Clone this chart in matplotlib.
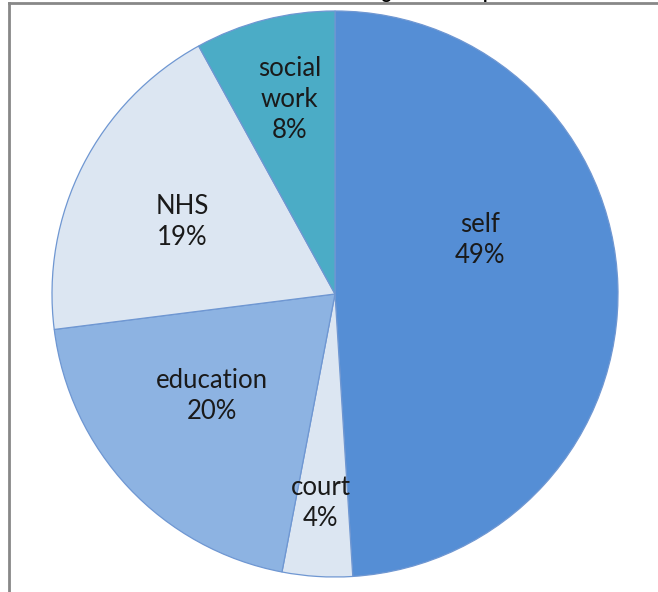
import matplotlib
matplotlib.use("Agg")
import matplotlib.pyplot as plt
from matplotlib.lines import Line2D

# Referral sources (percent of all referrals)
sources = ["self", "court", "education", "NHS", "social\nwork"]
shares = [49, 4, 20, 19, 8]
colors = ["#558ED5", "#DCE6F2", "#8DB3E2", "#DCE6F2", "#4BACC6"]

# Label anchor points inside each wedge, in units of the pie radius
label_pos = [(0.512, 0.191), (-0.050, -0.739), (-0.435, -0.360),
             (-0.541, 0.254), (-0.160, 0.686)]

W, H = 658, 592
fig = plt.figure(figsize=(W / 100, H / 100), dpi=100)
fig.patch.set_facecolor("white")

cx, cy, r = 335, 294, 283
ax = fig.add_axes([(cx - r) / W, (H - cy - r) / H, 2 * r / W, 2 * r / H])
ax.pie(shares, colors=colors, startangle=90, counterclock=False, radius=1,
       wedgeprops=dict(edgecolor="#6F97D2", linewidth=0.9))
ax.set_xlim(-1, 1)
ax.set_ylim(-1, 1)
ax.set_aspect("equal")
ax.axis("off")

for name, val, (lx, ly) in zip(sources, shares, label_pos):
    ax.text(lx, ly, f"{name}\n{val}%", ha="center", va="center",
            fontsize=18.5, family="Lato", color="#1a1a1a", linespacing=1.3)

# Chart frame (top and left edges)
fig.add_artist(Line2D([9 / W, 9 / W], [0, 1 - 3 / H], transform=fig.transFigure,
                      color="#888888", linewidth=2))
fig.add_artist(Line2D([9 / W, 1], [1 - 3 / H, 1 - 3 / H], transform=fig.transFigure,
                      color="#888888", linewidth=2))

# Chart title, sitting above the frame
fig.text(205 / W, 1 + 1 / H, "Referral sources during the school period",
         ha="left", va="baseline", fontsize=13, fontweight="bold",
         family="Lato", color="black")

fig.savefig("out.png", dpi=100)
